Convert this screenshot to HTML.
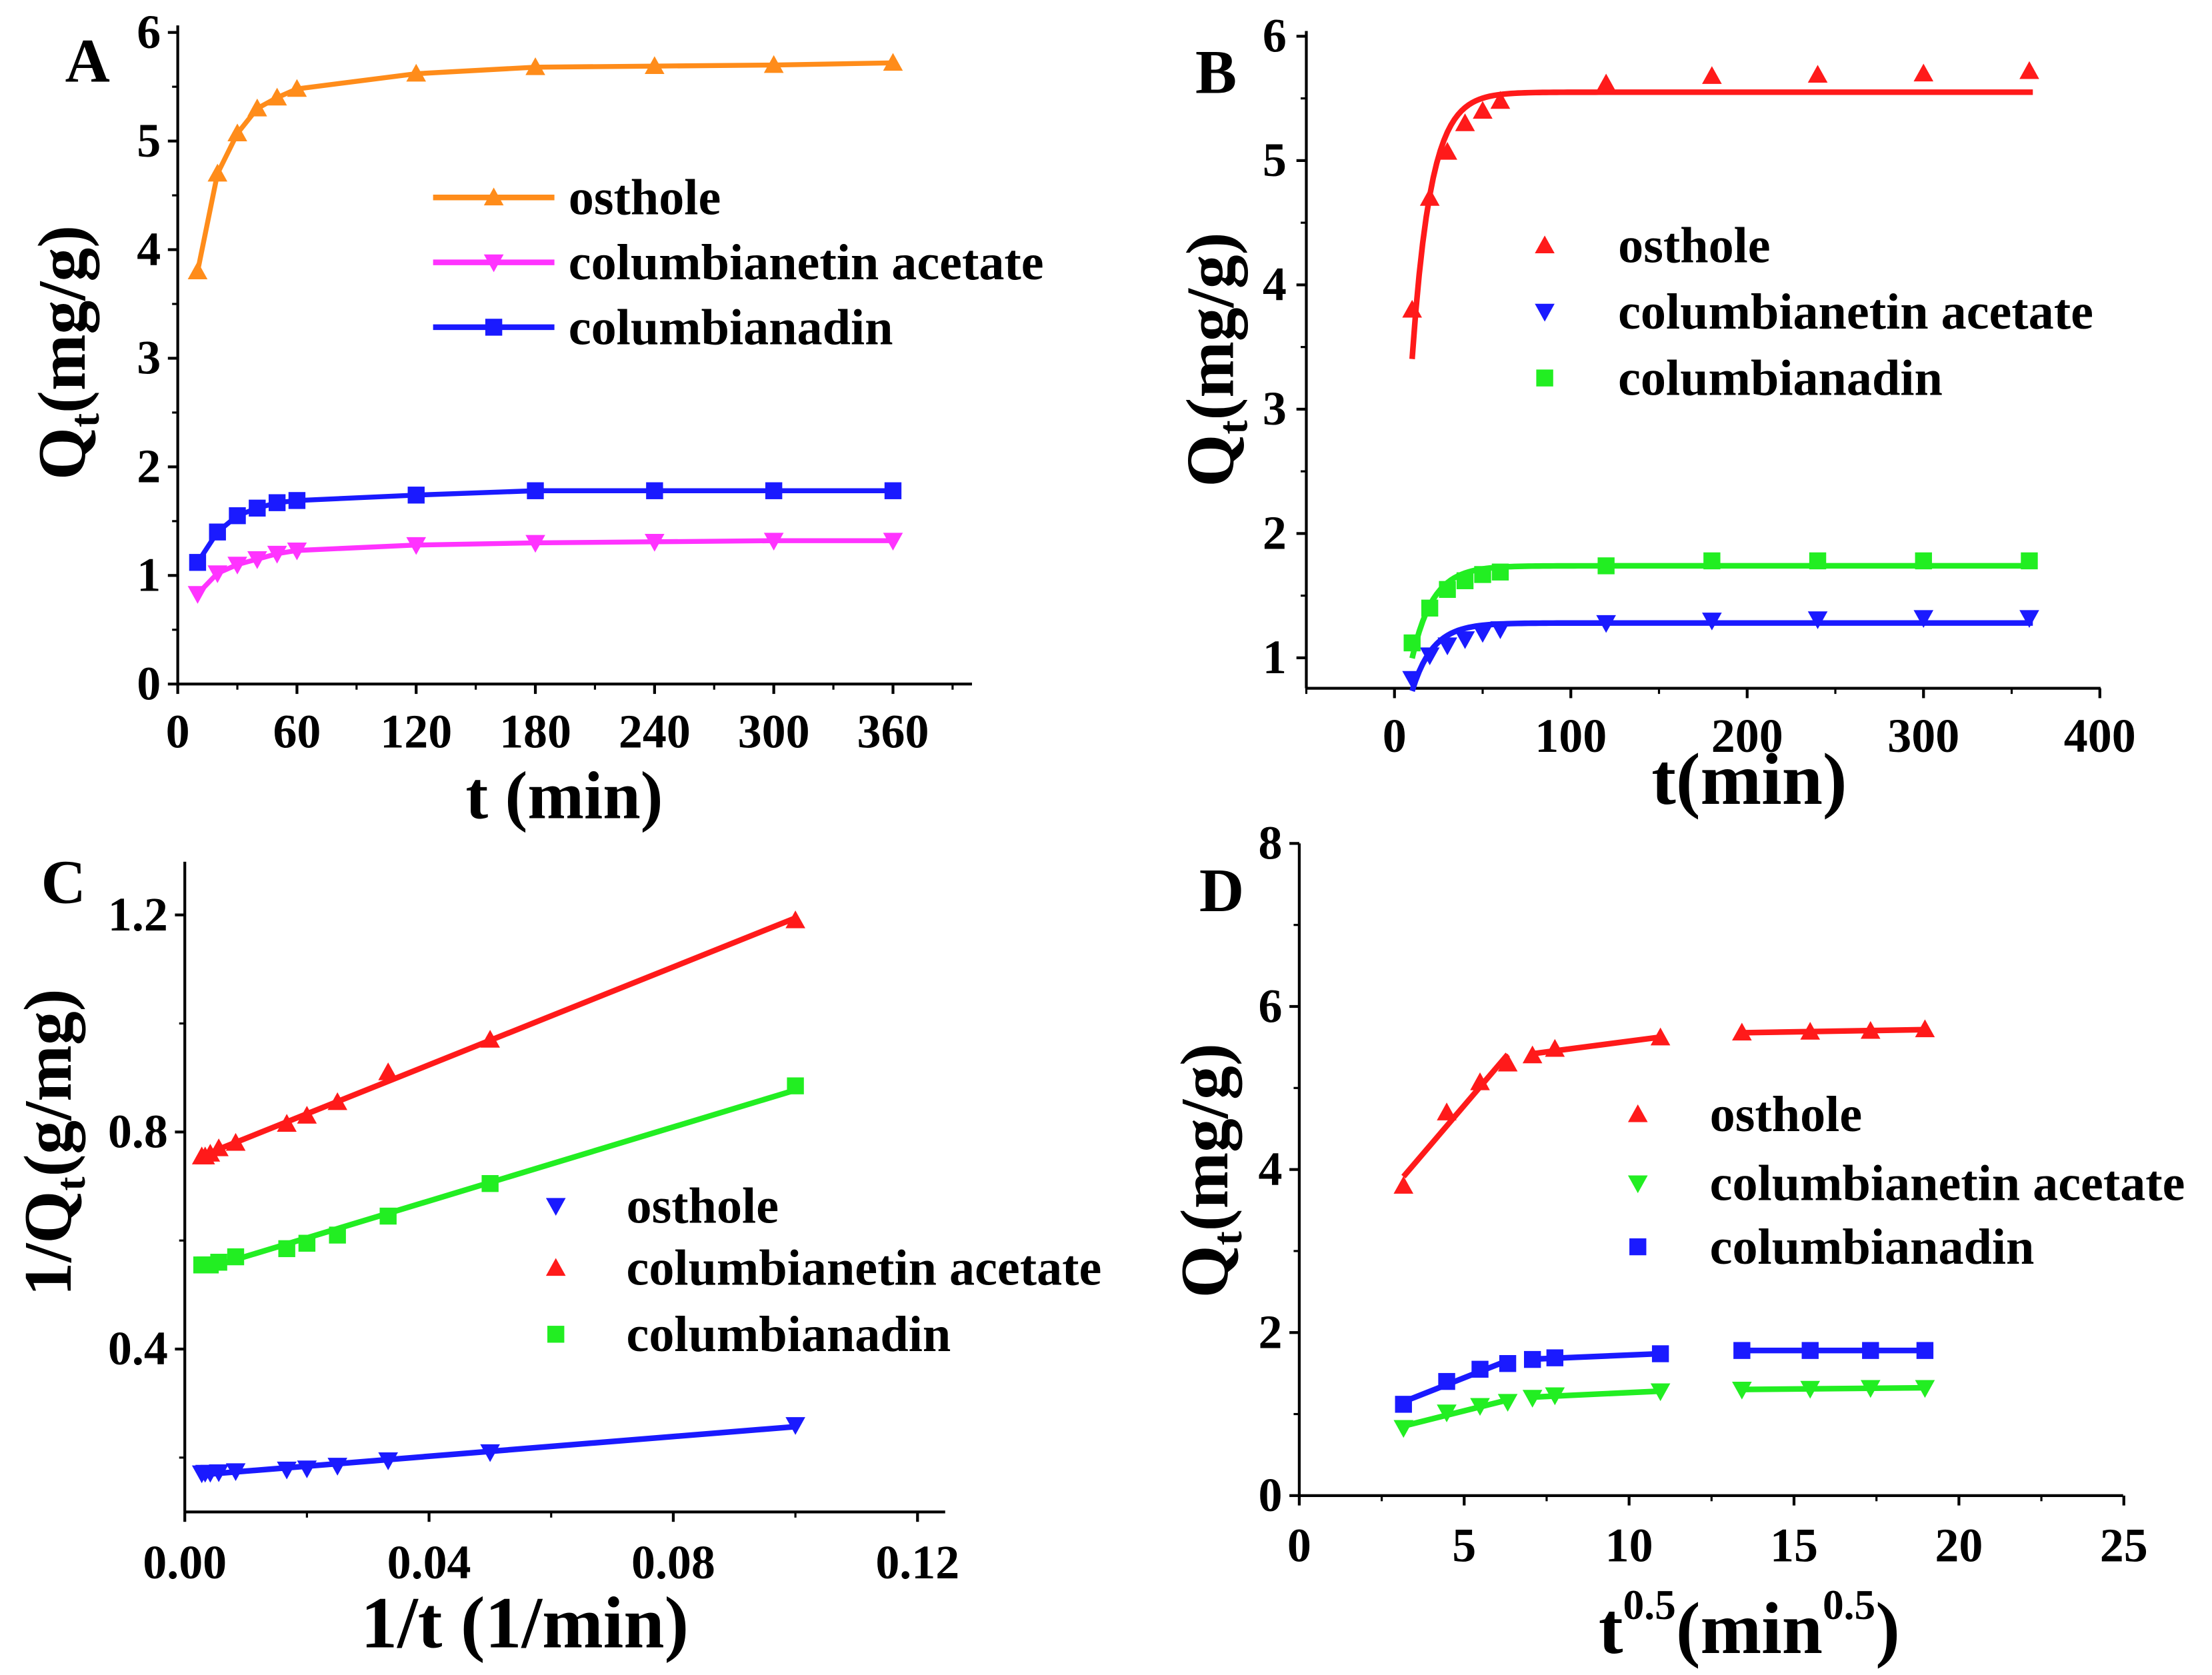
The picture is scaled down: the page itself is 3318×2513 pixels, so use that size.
<!DOCTYPE html>
<html><head><meta charset="utf-8"><style>
html,body{margin:0;padding:0;background:#fff;}
svg{display:block;font-family:"Liberation Serif",serif;font-weight:bold;}
</style></head><body>
<svg id="fig" width="3318" height="2513" viewBox="0 0 1568 1187.6" preserveAspectRatio="none" xmlns="http://www.w3.org/2000/svg"></svg>
<script>
const times = [10,20,30,40,50,60,120,180,240,300,360];
const qOsthole = [3.8,4.7,5.07,5.3,5.4,5.48,5.62,5.68,5.69,5.7,5.72];
const qAcetate = [0.83,1.02,1.1,1.15,1.2,1.23,1.28,1.3,1.31,1.32,1.32];
const qColumb = [1.12,1.4,1.55,1.62,1.67,1.69,1.74,1.78,1.78,1.78,1.78];
const invT = [0.1,0.05,0.0333,0.025,0.02,0.0167,0.00833,0.00556,0.00417,0.00333,0.00278];
const invRed = [1.19,0.97,0.91,0.855,0.83,0.815,0.78,0.77,0.76,0.755,0.755];
const invGreen = [0.885,0.705,0.645,0.61,0.595,0.585,0.57,0.56,0.555,0.555,0.555];
const invBlue = [0.26,0.21,0.195,0.185,0.18,0.178,0.175,0.173,0.172,0.172,0.171];
const sqrtT = [3.16,4.47,5.48,6.32,7.07,7.75,10.95,13.42,15.49,17.32,18.97];
const fitQe = [5.55,1.28,1.74];
const fitK = [0.095,0.085,0.085];
const ticksA = [0,60,120,180,240,300,360];
const ticksAy = [0,1,2,3,4,5,6];
const ticksB = [0,100,200,300,400];
const ticksBy = [1,2,3,4,5,6];
const ticksC = [0.00,0.04,0.08,0.12];
const ticksCy = [0.4,0.8,1.2];
const ticksD = [0,5,10,15,20,25];
const ticksDy = [0,2,4,6,8];

const NS="http://www.w3.org/2000/svg";
const svg=document.getElementById('fig');
const TICK=34, LEG=36, TIT=48;
function el(tag,attrs,parent,text){const e=document.createElementNS(NS,tag);for(const k in attrs)e.setAttribute(k,attrs[k]);if(text!==undefined)e.textContent=text;(parent||svg).appendChild(e);return e;}
function lin(d0,d1,r0,r1){return v=>r0+(v-d0)*(r1-r0)/(d1-d0);}
function marker(g,type,x,y,c){let m;const s=7;
 if(type==='up')m=el('polygon',{points:`${x},${y-s} ${x-s},${y+s*0.8} ${x+s},${y+s*0.8}`,fill:c},g);
 else if(type==='down')m=el('polygon',{points:`${x},${y+s} ${x-s},${y-s*0.8} ${x+s},${y-s*0.8}`,fill:c},g);
 else m=el('rect',{x:x-6,y:y-6,width:12,height:12,fill:c},g);
 
 
 return m;}
function axes(g,o){
 const {x0,x1,y0,y1,xs,ys,xt,yt,xminor,yminor,xfmt,yfmt,xLabY,yLabX}=o;
 let a=el('line',{x1:x0,y1:y0,x2:x1,y2:y0,stroke:'#000','stroke-width':2},g);
 a=el('line',{x1:x0,y1:y0,x2:x0,y2:y1,stroke:'#000','stroke-width':2},g);
 xt.forEach(v=>{const x=xs(v);el('line',{x1:x,y1:y0,x2:x,y2:y0+7,stroke:'#000','stroke-width':2},g);
  const t=el('text',{x:x,y:xLabY,'text-anchor':'middle','font-size':TICK},g,xfmt(v));});
 xminor.forEach(v=>{const x=xs(v);el('line',{x1:x,y1:y0,x2:x,y2:y0+4,stroke:'#000','stroke-width':1.5},g);});
 yt.forEach(v=>{const y=ys(v);el('line',{x1:x0,y1:y,x2:x0-7,y2:y,stroke:'#000','stroke-width':2},g);
  const t=el('text',{x:yLabX,y:y+11,'text-anchor':'end','font-size':TICK},g,yfmt(v));});
 yminor.forEach(v=>{const y=ys(v);el('line',{x1:x0,y1:y,x2:x0-4,y2:y,stroke:'#000','stroke-width':1.5},g);});
}
function polyline(g,xs,ys,xv,yv,c,w){const pts=xv.map((v,i)=>xs(v)+','+ys(yv[i])).join(' ');const p=el('polyline',{points:pts,fill:'none',stroke:c,'stroke-width':w||3.5},g);return p;}
function legend(g,items,mx,tx,withLine){items.forEach(it=>{
 const lg=el('g',{},g);
 if(withLine)el('line',{x1:mx-43,y1:it.y,x2:mx+43,y2:it.y,stroke:it.c,'stroke-width':4},lg);
 marker(lg,it.m,mx,it.y,it.c);
 el('text',{x:tx,y:it.y+12,'font-size':LEG},lg,it.t);});}
function label(txt,x,y,name,size){const t=el('text',{x:x,y:y,'font-size':size||40,'text-anchor':'middle'},svg,txt);return t;}
function range(a,b,s){const r=[];for(let v=a;v<=b+1e-9;v+=s)r.push(+v.toFixed(4));return r;}
function linfit(x,y){const n=x.length;const mx=x.reduce((a,b)=>a+b)/n,my=y.reduce((a,b)=>a+b)/n;let sxy=0,sxx=0;for(let i=0;i<n;i++){sxy+=(x[i]-mx)*(y[i]-my);sxx+=(x[i]-mx)**2;}const b=sxy/sxx;return [my-b*mx,b];}
function ytitle(html,x,y,name){const t=el('text',{x:0,y:0,'font-size':TIT,'text-anchor':'middle',transform:`translate(${x},${y}) rotate(-90)`},svg);t.innerHTML=html;}

// ---------- Panel A
{const g=el('g',{});
 const xs=lin(0,360,126,633), ys=lin(0,6,485,23);
 axes(g,{x0:126,x1:689,y0:485,y1:18,xs,ys,xt:ticksA,yt:ticksAy,xminor:range(30,390,60),yminor:range(0.5,5.5,1),xfmt:v=>v,yfmt:v=>v,xLabY:530,yLabX:114});
 [[qOsthole,'#ff8c1a','up'],[qAcetate,'#ff33ff','down'],[qColumb,'#1a1aff','sq']].forEach(([q,c,m])=>{polyline(g,xs,ys,times,q,c);times.forEach((t,i)=>marker(g,m,xs(t),ys(q[i]),c));});
 legend(g,[{y:140,c:'#ff8c1a',m:'up',t:'osthole'},{y:186,c:'#ff33ff',m:'down',t:'columbianetin acetate'},{y:232,c:'#1a1aff',m:'sq',t:'columbianadin'}],350,403,true);
}
label('A',62,58,'panel-label-a',44);
label('t (min)',400,580,'x-axis-title-a',TIT);
ytitle('Q<tspan font-size="30" dy="10">t</tspan><tspan dy="-10">(mg/g)</tspan>',60,250,'y-axis-title-a');

// ---------- Panel B
{const g=el('g',{});
 const xs=lin(0,400,988.5,1488.5), ys=lin(1,6,466.4,25.7);
 axes(g,{x0:926,x1:1489,y0:488,y1:22,xs,ys,xt:ticksB,yt:ticksBy,xminor:range(-50,350,100),yminor:range(1.5,5.5,1),xfmt:v=>v,yfmt:v=>v,xLabY:533,yLabX:912});
 const sets=[[qOsthole,'#ff1a1a','up'],[qAcetate,'#1a1aff','down'],[qColumb,'#22ee22','sq']];
 sets.forEach(([q,c,m],k)=>{const tv=range(10,362,2);const qv=tv.map(t=>fitQe[k]*(1-Math.exp(-fitK[k]*t)));polyline(g,xs,ys,tv,qv,c,4);
  times.forEach((t,i)=>marker(g,m,xs(t),ys(q[i]),c));});
 legend(g,[{y:174,c:'#ff1a1a',m:'up',t:'osthole'},{y:221,c:'#1a1aff',m:'down',t:'columbianetin acetate'},{y:268,c:'#22ee22',m:'sq',t:'columbianadin'}],1095,1147,false);
}
label('B',862,66,'panel-label-b',44);
label('t(min)',1240,570,'x-axis-title-b',52);
ytitle('Q<tspan font-size="30" dy="10">t</tspan><tspan dy="-10">(mg/g)</tspan>',874,255,'y-axis-title-b');

// ---------- Panel C
{const g=el('g',{});
 const xs=lin(0,0.12,131,650.4), ys=lin(0.4,1.2,956.5,648.7);
 axes(g,{x0:131,x1:670,y0:1072,y1:611,xs,ys,xt:ticksC,yt:ticksCy,xminor:[0.02,0.06,0.1],yminor:[0.2,0.6,1.0],xfmt:v=>v.toFixed(2),yfmt:v=>v.toFixed(1),xLabY:1119,yLabX:119});
 [[invRed,'#ff1a1a','up'],[invGreen,'#22ee22','sq'],[invBlue,'#1a1aff','down']].forEach(([q,c,m])=>{const [a,b]=linfit(invT,q);const xv=[0.0027,0.1];polyline(g,xs,ys,xv,xv.map(x=>a+b*x),c,4);
  invT.forEach((x,i)=>marker(g,m,xs(x),ys(q[i]),c));});
 legend(g,[{y:855,c:'#1a1aff',m:'down',t:'osthole'},{y:899,c:'#ff1a1a',m:'up',t:'columbianetin acetate'},{y:946,c:'#22ee22',m:'sq',t:'columbianadin'}],394,444,false);
}
label('C',45,640,'panel-label-c',44);
label('1/t (1/min)',372,1168,'x-axis-title-c',52);
ytitle('1/Q<tspan font-size="30" dy="10">t</tspan><tspan dy="-10">(g/mg)</tspan>',50,810,'y-axis-title-c');

// ---------- Panel D
{const g=el('g',{});
 const xs=lin(0,25,921,1505.5), ys=lin(0,8,1060.4,598);
 axes(g,{x0:921,x1:1505,y0:1060.4,y1:598,xs,ys,xt:ticksD,yt:ticksDy,xminor:range(2.5,22.5,5),yminor:[1,3,5,7],xfmt:v=>v,yfmt:v=>v,xLabY:1107,yLabX:909});
 const segs=[[0,4],[4,7],[7,11]];
 [[qOsthole,'#ff1a1a','up'],[qAcetate,'#22ee22','down'],[qColumb,'#1a1aff','sq']].forEach(([q,c,m])=>{
  segs.forEach(([s,e])=>{const xv=sqrtT.slice(s,e),yv=q.slice(s,e);const [a,b]=linfit(xv,yv);const ex=[xv[0],xv[xv.length-1]];polyline(g,xs,ys,ex,ex.map(x=>a+b*x),c,4);});
  sqrtT.forEach((x,i)=>marker(g,m,xs(x),ys(q[i]),c));});
 legend(g,[{y:790,c:'#ff1a1a',m:'up',t:'osthole'},{y:839,c:'#22ee22',m:'down',t:'columbianetin acetate'},{y:884,c:'#1a1aff',m:'sq',t:'columbianadin'}],1161,1212,false);
}
label('D',866,646,'panel-label-d',44);
{const t=el('text',{x:1240,y:1172,'font-size':52,'text-anchor':'middle'},svg);
 t.innerHTML='t<tspan font-size="30" dy="-24">0.5</tspan><tspan dy="24">(min</tspan><tspan font-size="30" dy="-24">0.5</tspan><tspan dy="24">)</tspan>';}
ytitle('Q<tspan font-size="30" dy="10">t</tspan><tspan dy="-10">(mg/g)</tspan>',870,830,'y-axis-title-d');
</script>
</body></html>
